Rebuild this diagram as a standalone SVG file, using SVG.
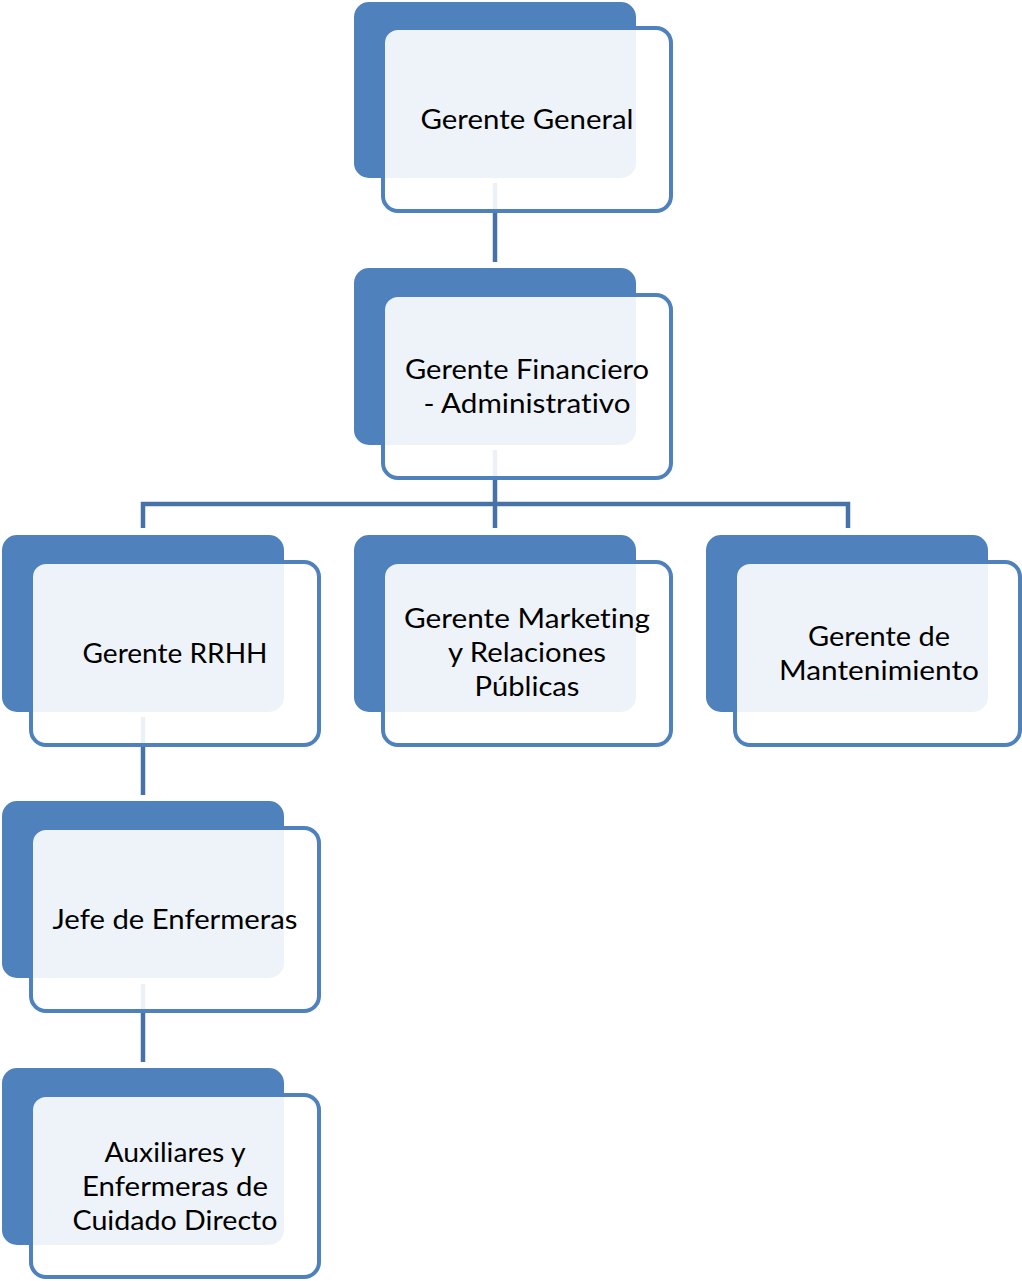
<svg xmlns="http://www.w3.org/2000/svg" width="1022" height="1281" viewBox="0 0 1022 1281">
<style>
.back{fill:#4F81BD}
.front{fill:#FFFFFF;fill-opacity:0.9;stroke:#4F81BD;stroke-width:4}
.conn{fill:none;stroke:#4672A8;stroke-width:4.5}
text{font-family:Lato,"Open Sans","Liberation Sans",sans-serif;font-size:27px;fill:#000;text-anchor:middle;font-variant-ligatures:none}
</style>
<rect width="1022" height="1281" fill="#FFFFFF"/>
<g id="connectors">
<path class="conn" d="M495 183V262"/>
<path class="conn" d="M495 450V528M143 528V504H848V528"/>
<path class="conn" d="M143 717V795"/>
<path class="conn" d="M143 984V1062"/>
</g>
<g id="n1">
<rect class="back" x="354" y="2" width="282" height="176" rx="15"/>
<rect class="front" x="383" y="28" width="288" height="183" rx="15"/>
<text x="527" y="129" textLength="213" lengthAdjust="spacingAndGlyphs">Gerente General</text>
</g>
<g id="n2">
<rect class="back" x="354" y="268" width="282" height="177" rx="15"/>
<rect class="front" x="383" y="295" width="288" height="183" rx="15"/>
<text x="527" y="379" textLength="244" lengthAdjust="spacingAndGlyphs">Gerente Financiero</text>
<text x="527" y="413" textLength="207" lengthAdjust="spacingAndGlyphs">- Administrativo</text>
</g>
<g id="n3">
<rect class="back" x="2" y="535" width="282" height="177" rx="15"/>
<rect class="front" x="31" y="562" width="288" height="183" rx="15"/>
<text x="175" y="663" textLength="185" lengthAdjust="spacingAndGlyphs">Gerente RRHH</text>
</g>
<g id="n4">
<rect class="back" x="354" y="535" width="282" height="177" rx="15"/>
<rect class="front" x="383" y="562" width="288" height="183" rx="15"/>
<text x="527" y="628" textLength="246" lengthAdjust="spacingAndGlyphs">Gerente Marketing</text>
<text x="527" y="662" textLength="158" lengthAdjust="spacingAndGlyphs">y Relaciones</text>
<text x="527" y="696" textLength="105" lengthAdjust="spacingAndGlyphs">Públicas</text>
</g>
<g id="n5">
<rect class="back" x="706" y="535" width="282" height="177" rx="15"/>
<rect class="front" x="735" y="562" width="285" height="183" rx="15"/>
<text x="879" y="646" textLength="142" lengthAdjust="spacingAndGlyphs">Gerente de</text>
<text x="879" y="680" textLength="200" lengthAdjust="spacingAndGlyphs">Mantenimiento</text>
</g>
<g id="n6">
<rect class="back" x="2" y="801" width="282" height="177" rx="15"/>
<rect class="front" x="31" y="828" width="288" height="183" rx="15"/>
<text x="175" y="929" textLength="245" lengthAdjust="spacingAndGlyphs">Jefe de Enfermeras</text>
</g>
<g id="n7">
<rect class="back" x="2" y="1068" width="282" height="177" rx="15"/>
<rect class="front" x="31" y="1095" width="288" height="182" rx="15"/>
<text x="175" y="1162" textLength="141" lengthAdjust="spacingAndGlyphs">Auxiliares y</text>
<text x="175" y="1196" textLength="186" lengthAdjust="spacingAndGlyphs">Enfermeras de</text>
<text x="175" y="1230" textLength="205" lengthAdjust="spacingAndGlyphs">Cuidado Directo</text>
</g>
</svg>
